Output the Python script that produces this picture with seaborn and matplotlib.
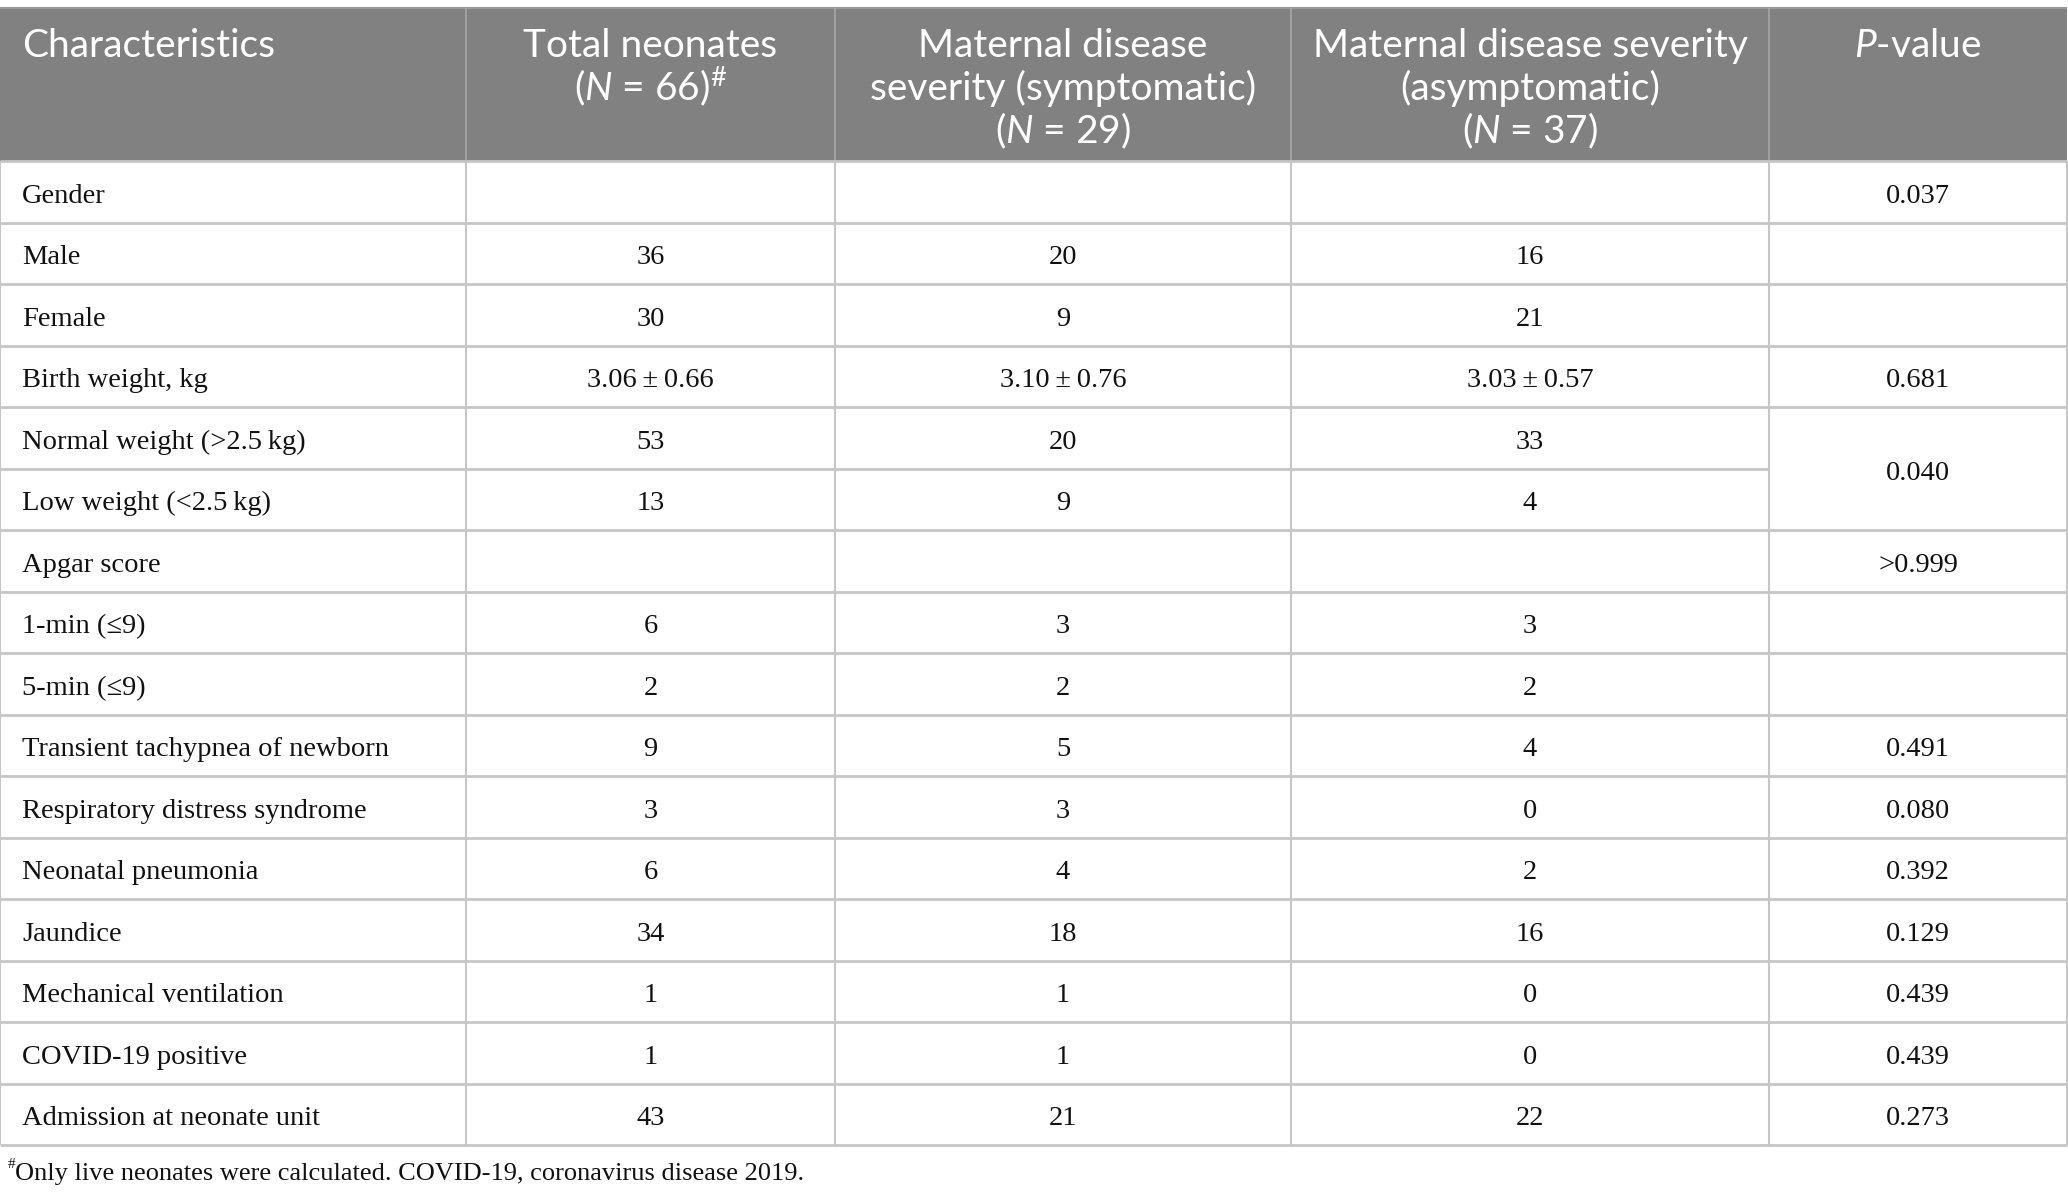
import matplotlib
matplotlib.use('Agg')
import matplotlib.pyplot as plt
import seaborn as sns
import pandas as pd

sns.set_theme(style='white')
plt.rcParams['font.family'] = ['Liberation Serif', 'DejaVu Serif']
plt.rcParams['mathtext.fontset'] = 'custom'
plt.rcParams['mathtext.rm'] = 'Lato'
plt.rcParams['mathtext.it'] = 'Lato:italic'
plt.rcParams['mathtext.bf'] = 'Lato:bold'

# 表格数据
characteristics = ['Gender', 'Male', 'Female', 'Birth weight, kg',
                   'Normal weight (>2.5\u2009kg)', 'Low weight (<2.5\u2009kg)',
                   'Apgar score', '1-min (\u22649)', '5-min (\u22649)',
                   'Transient tachypnea of newborn', 'Respiratory distress syndrome',
                   'Neonatal pneumonia', 'Jaundice', 'Mechanical ventilation',
                   'COVID-19 positive', 'Admission at neonate unit']
total = ['', '36', '30', '3.06\u2009\u00b1\u20090.66', '53', '13', '', '6', '2',
         '9', '3', '6', '34', '1', '1', '43']
symptomatic = ['', '20', '9', '3.10\u2009\u00b1\u20090.76', '20', '9', '', '3', '2',
               '5', '3', '4', '18', '1', '1', '21']
asymptomatic = ['', '16', '21', '3.03\u2009\u00b1\u20090.57', '33', '4', '', '3', '2',
                '4', '0', '2', '16', '0', '0', '22']
p_values = ['0.037', '', '', '0.681', '0.040', '', '>0.999', '', '',
            '0.491', '0.080', '0.392', '0.129', '0.439', '0.439', '0.273']
# P值单元格合并行数（0 = 被上一格合并）
p_span = [1, 1, 1, 1, 2, 0, 1, 1, 1, 1, 1, 1, 1, 1, 1, 1]

headers = [
    ['Characteristics'],
    ['Total neonates', r'($\mathit{N}$ = 66)$^{\#}$'],
    ['Maternal disease', 'severity (symptomatic)', r'($\mathit{N}$ = 29)'],
    ['Maternal disease severity', '(asymptomatic)', r'($\mathit{N}$ = 37)'],
    [r'$\mathit{P}$-value'],
]
footnote = 'Only live neonates were calculated. COVID-19, coronavirus disease 2019.'

df = pd.DataFrame({'char': characteristics, 'total': total, 'sym': symptomatic,
                   'asym': asymptomatic, 'p': p_values, 'span': p_span})

# 布局（像素坐标）
W, H = 2068, 1200
col_x = [0, 466, 835, 1291, 1769, 2067]
head_top, head_bot = 8, 161
row_h = (1145 - head_bot) / len(df)
line_c = '#c6c6c6'
head_c = '#808180'

fig = plt.figure(figsize=(W / 100, H / 100), dpi=100)
ax = fig.add_axes([0, 0, 1, 1])
ax.set_xlim(0, W)
ax.set_ylim(H, 0)
ax.axis('off')

# 表头
ax.add_patch(plt.Rectangle((0, head_top), col_x[-1], head_bot - head_top,
                           facecolor=head_c, edgecolor='none', zorder=1))
ax.hlines(head_top, 0, col_x[-1], color='#9a9a9a', lw=1.5, zorder=2)
ax.vlines(col_x[1:-1], head_top, head_bot, color='#a6a6a6', lw=1.2, zorder=2)
for i, lines in enumerate(headers):
    for j, txt in enumerate(lines):
        if i == 0:
            ax.text(22, 57 + 43 * j, txt, ha='left', va='baseline', color='white',
                    fontsize=28, family='Lato', zorder=3)
        else:
            cx = (col_x[i] + col_x[i + 1]) / 2
            ax.text(cx, 57 + 43 * j, txt, ha='center', va='baseline', color='white',
                    fontsize=28, family='Lato', zorder=3)

# 表体网格
bottom = head_bot + row_h * len(df)
ax.vlines(col_x, head_bot, bottom, color=line_c, lw=1.5, zorder=2)
for k in range(len(df) + 1):
    y = head_bot + row_h * k
    if k < len(df) and k > 0 and df['span'][k] == 0:
        ax.hlines(y, 0, col_x[4], color=line_c, lw=2, zorder=2)
    else:
        ax.hlines(y, 0, col_x[-1], color=line_c, lw=2, zorder=2)

# 单元格文字
fs = 20.5
for k, r in df.iterrows():
    yc = head_bot + row_h * (k + 0.5)
    ax.text(22, yc + 11, r['char'], ha='left', va='baseline', fontsize=fs,
            color='#111111', zorder=3)
    for c, key in zip(range(1, 4), ['total', 'sym', 'asym']):
        cx = (col_x[c] + col_x[c + 1]) / 2
        ax.text(cx, yc + 11, r[key], ha='center', va='baseline', fontsize=fs,
                color='#111111', zorder=3)
    if r['span'] > 0 and r['p']:
        yp = head_bot + row_h * (k + r['span'] / 2)
        ax.text((col_x[4] + col_x[5]) / 2, yp + 11, r['p'], ha='center',
                va='baseline', fontsize=fs, color='#111111', zorder=3)

# 脚注
ax.text(8, 1168, '#', ha='left', va='baseline', fontsize=11, color='#111111')
ax.text(15, 1180, footnote, ha='left', va='baseline', fontsize=19, color='#111111')

fig.savefig('out.png', dpi=100, facecolor='white')
